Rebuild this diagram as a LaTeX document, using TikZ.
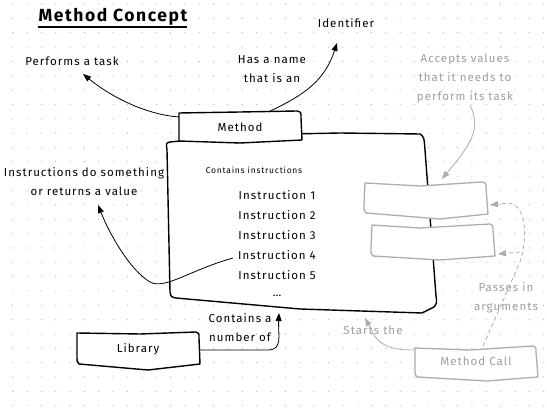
\documentclass[tikz,border=0pt]{standalone}
\usepackage{fontspec}
\setmainfont{Fira Sans}[LetterSpace=9]
\usetikzlibrary{arrows.meta}
\begin{document}
\begin{tikzpicture}[x=1pt,y=-1pt,
  every node/.style={font=\fontsize{11.5}{13}\selectfont, inner sep=1pt},
  ink/.style={draw=black, line width=1.4pt, line join=round, fill=white},
  grayink/.style={draw=black!32, line width=1.3pt, line join=round, fill=white},
  glbl/.style={text=black!38},
  conn/.style={draw=black, line width=0.8pt, -{Triangle[length=8pt,width=6pt]}},
  gconn/.style={draw=black!32, line width=0.8pt, -{Triangle[length=8pt,width=6pt]}},
  gdash/.style={gconn, dashed, dash pattern=on 4pt off 3pt}
]
\useasboundingbox (0,0) rectangle (547,419);
\fill[white] (0,0) rectangle (547,419);
\foreach \i in {0,...,37} \foreach \j in {0,...,28}
  \fill[black!28] ({12.7+14.35*\i},{4+14.35*\j}) circle (0.65);

% title
\node[font=\fontsize{17.5}{20}\selectfont\bfseries] (title) at (113,17) {Method Concept};
\draw[line width=1.3pt] (38,27) -- (187,27);

% big container box
\draw[ink] (170,142) .. controls (166,143) .. (167,150) -- (170,292) .. controls (171,297) .. (176,298)
  -- (300,309) -- (422,313) -- (434,307) .. controls (437,303) .. (436,296) -- (425,150) .. controls (424,137) .. (420,134)
  -- (340,133) -- (240,135) -- cycle;
% method box
\draw[ink] (179,113) -- (240,112) -- (297,111) .. controls (301,112) .. (301,118) -- (302,140) -- (240,143) -- (179,141) -- cycle;
\node (method) at (240,127) {Method};
\coordinate (methodL) at (179,117);
\coordinate (methodT) at (268,112);

% texts inside
\node[font=\fontsize{8.5}{10}\selectfont] (contains) at (254,170) {Contains instructions};
\node (i1) at (277,195) {Instruction 1};
\node (i2) at (277,215) {Instruction 2};
\node (i3) at (277,235) {Instruction 3};
\node (i4) at (277,255) {Instruction 4};
\node (i5) at (277,275) {Instruction 5};
\node (dots) at (277,296) {\dots};

% outer texts
\node (performs) at (72,61) {Performs a task};
\node (identifier) at (346,23) {Identifier};
\node[align=center] (hasname) at (272,69) {Has a name\\[6pt]that is an};
\node[align=center] (instr) at (84,182) {Instructions do something\\[6pt]or returns a value};
\node[glbl, align=center] (accepts) at (465,78) {Accepts values\\[6pt]that it needs to\\[6pt]perform its task};
\node[glbl, align=center] (passes) at (506,298) {Passes in\\[6pt]arguments};
\node[glbl] (starts) at (373,330) {Starts the};
\node[align=center] (containsa) at (240,328) {Contains a\\[6pt]number of};
\coordinate (performsTip) at (83,74);
\coordinate (identTip) at (337,43);
\coordinate (instrTip) at (98,205);
\coordinate (acceptsB) at (470,105);

% parameter boxes
\draw[grayink] (365,183) -- (420,186) -- (482,182) .. controls (486,183) .. (486,188) -- (488,214) -- (440,219) -- (366,213) .. controls (364,211) .. (364,205) -- cycle;
\draw[grayink] (372,225) -- (420,228) -- (490,224) .. controls (493,225) .. (493,230) -- (495,256) -- (440,260) -- (373,256) .. controls (371,254) .. (371,248) -- cycle;
\coordinate (p1R) at (490,205);
\coordinate (p2R) at (498,254);
\coordinate (p1T) at (442,179);

% method call box
\draw[grayink] (415,348) -- (470,350) -- (533,346) .. controls (536,347) .. (536,352) -- (538,377) -- (487,381) -- (417,377) .. controls (415,375) .. (415,368) -- cycle;
\node[glbl] (call) at (476,361) {Method Call};
\coordinate (callL) at (414,350);
\coordinate (callT) at (483,346);
\coordinate (bigB) at (365,318);

% library box
\draw[ink] (77,333) -- (140,334) -- (196,332) .. controls (199,333) .. (199,338) -- (200,364) -- (148,370) -- (79,364) .. controls (77,362) .. (77,355) -- cycle;
\node (library) at (138,349) {Library};
\coordinate (libR) at (200,350);
\coordinate (dotsB) at (279,313);

% connectors
\draw[conn] (methodL) .. controls (150,115) and (115,100) .. (performsTip);
\draw[conn] (methodT) .. controls (305,95) and (325,80) .. (identTip);
\draw[conn] (233,258) .. controls (190,270) and (165,290) .. (150,282) .. controls (130,270) and (110,235) .. (instrTip);
\draw[conn] (libR) -- (268,350) .. controls (283,350) and (278,335) .. (dotsB);
\draw[gconn] (acceptsB) .. controls (482,130) and (470,145) .. (p1T);
\draw[gconn] (callL) .. controls (395,350) and (380,347) .. (373,333) -- (bigB);
\draw[gdash] (callT) -- (520,262) .. controls (527,240) and (528,205) .. (508,203) -- (p1R);
\draw[gdash] (520,252) -- (p2R);
\end{tikzpicture}
\end{document}
